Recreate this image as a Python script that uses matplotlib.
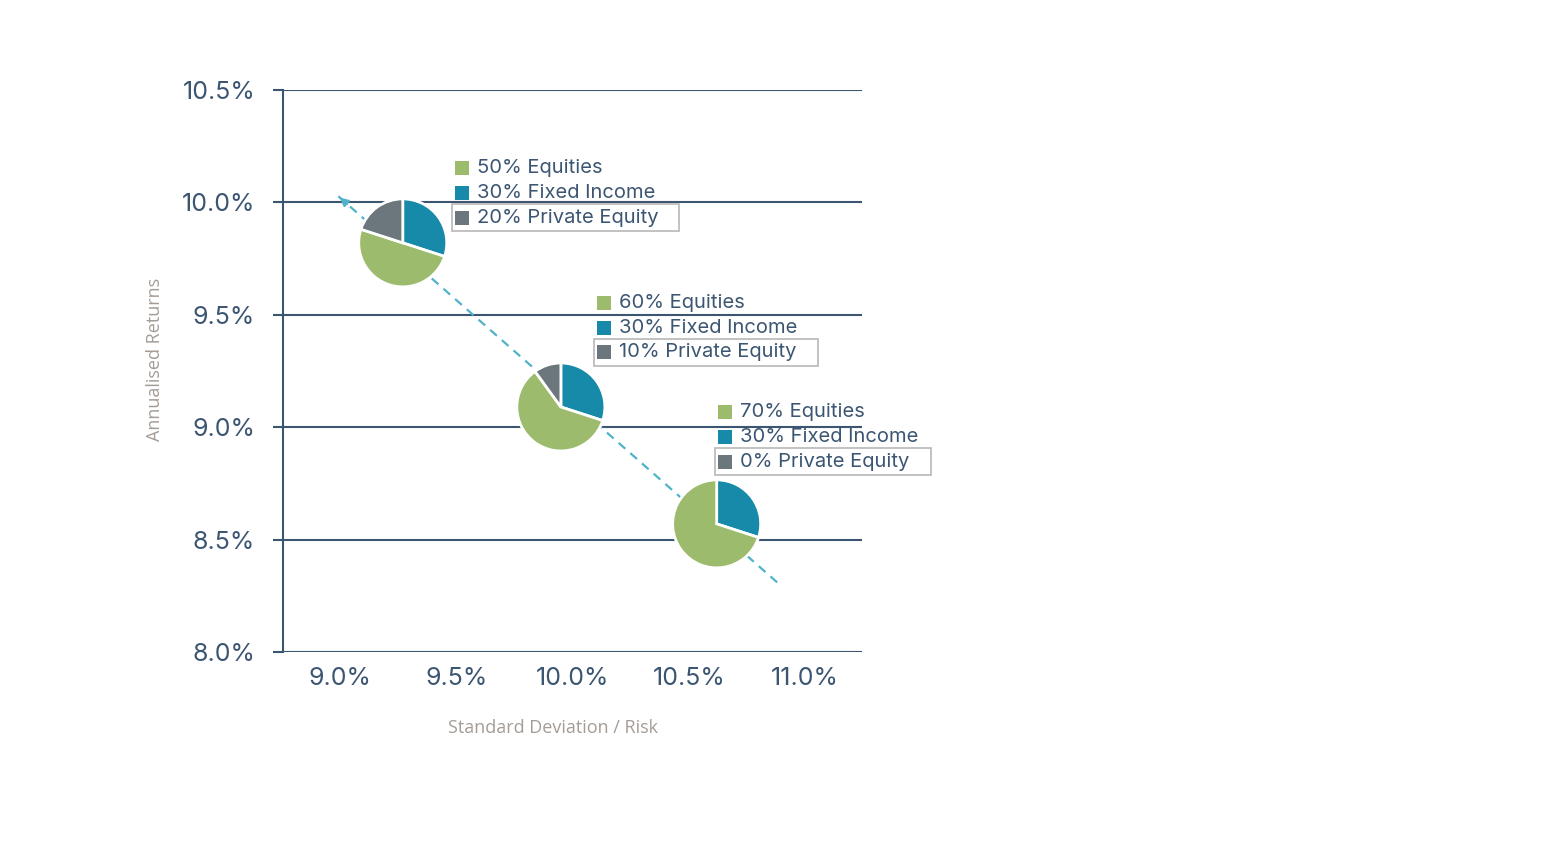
import matplotlib.pyplot as plt
from matplotlib.patches import Wedge, Rectangle
from matplotlib.transforms import ScaledTranslation
from matplotlib.ticker import FuncFormatter

plt.rcParams['font.family'] = ['Inter', 'DejaVu Sans']

# portfolio data
risk = [9.27, 9.95, 10.62]          # standard deviation, %
returns = [9.82, 9.09, 8.57]        # annualised return, %
equities = [50, 60, 70]
fixed_income = [30, 30, 30]
private_equity = [20, 10, 0]

# dashed trend line (from low-left end to arrow tip)
trend_x = [10.88, 8.99]
trend_y = [8.31, 10.03]

x_ticks = [9.0, 9.5, 10.0, 10.5, 11.0]
y_ticks = [8.0, 8.5, 9.0, 9.5, 10.0, 10.5]

# where each small legend sits (data coords of first row)
legend_pos = [(9.495, 10.153), (10.105, 9.553), (10.626, 9.068)]
box_widths = [227, 224, 216]

green = '#9dbb6c'
blue = '#168aa8'
grey = '#6b777c'
navy = '#3c5672'
label_col = '#a59c95'
dash_col = '#4fb3c9'

dpi = 100
fig = plt.figure(figsize=(15.64, 8.64), dpi=dpi)
ax = fig.add_axes([283 / 1564, 1 - 652 / 864, 579 / 1564, 562 / 864])

ax.set_xlim(8.755, 11.245)
ax.set_ylim(8.0, 10.5)

for s in ['top', 'right', 'bottom']:
    ax.spines[s].set_visible(False)
ax.spines['left'].set_color(navy)
ax.spines['left'].set_linewidth(1.5)

for y in y_ticks:
    ax.axhline(y, color=navy, linewidth=1.5, zorder=1)

pct = FuncFormatter(lambda v, p: f"{v:.1f}%")
ax.set_xticks(x_ticks)
ax.set_yticks(y_ticks)
ax.xaxis.set_major_formatter(pct)
ax.yaxis.set_major_formatter(pct)
ax.tick_params(axis='x', length=0, pad=11, labelsize=18, labelcolor=navy)
ax.tick_params(axis='y', length=7, width=1.5, color=navy, pad=13,
               labelsize=18, labelcolor=navy)

ax.set_xlabel("Standard Deviation / Risk", color=label_col, fontsize=13,
              family=['Open Sans', 'DejaVu Sans'])
ax.xaxis.set_label_coords(0.467, -0.12)
ax.set_ylabel("Annualised Returns", color=label_col, fontsize=13,
              family=['Open Sans', 'DejaVu Sans'])
ax.yaxis.set_label_coords(-0.205, 0.52)

# trend line with arrow head
ax.plot(trend_x, trend_y, color=dash_col, linestyle=(0, (4, 3)),
        linewidth=1.6, zorder=2)
ax.annotate("", xy=(trend_x[1], trend_y[1]),
            xytext=(trend_x[1] + 0.05, trend_y[1] - 0.045),
            arrowprops=dict(arrowstyle='-|>', color=dash_col, lw=1.6,
                            mutation_scale=12), zorder=2)

radius = 0.44  # inches
for i in range(len(risk)):
    trans = fig.dpi_scale_trans + ScaledTranslation(risk[i], returns[i], ax.transData)
    start = 90.0
    for frac, col in zip([fixed_income[i], equities[i], private_equity[i]],
                         [blue, green, grey]):
        if frac == 0:
            continue
        end = start - 360.0 * frac / 100.0
        w = Wedge((0, 0), radius, end, start, facecolor=col, edgecolor='white',
                  linewidth=2, transform=trans, zorder=4, clip_on=False)
        ax.add_artist(w)
        start = end

    # small legend beside each pie
    lx, ly = legend_pos[i]
    ltrans = fig.dpi_scale_trans + ScaledTranslation(lx, ly, ax.transData)
    labels = [f"{equities[i]}% Equities", f"{fixed_income[i]}% Fixed Income",
              f"{private_equity[i]}% Private Equity"]
    for j, (lab, col) in enumerate(zip(labels, [green, blue, grey])):
        yo = -j * 0.248
        ax.add_artist(Rectangle((0.0, yo - 0.07), 0.14, 0.14, facecolor=col,
                                edgecolor='none', transform=ltrans, zorder=5,
                                clip_on=False))
        ax.text(0.22, yo, lab, transform=ltrans, fontsize=14.5, color=navy,
                va='center', ha='left', zorder=6)
    ax.add_artist(Rectangle((-0.03, -0.496 - 0.135), box_widths[i] / dpi, 0.27,
                            facecolor='none', edgecolor='#b8b8b8', linewidth=1.2,
                            transform=ltrans, zorder=5, clip_on=False))

fig.savefig("out.png", dpi=dpi)
